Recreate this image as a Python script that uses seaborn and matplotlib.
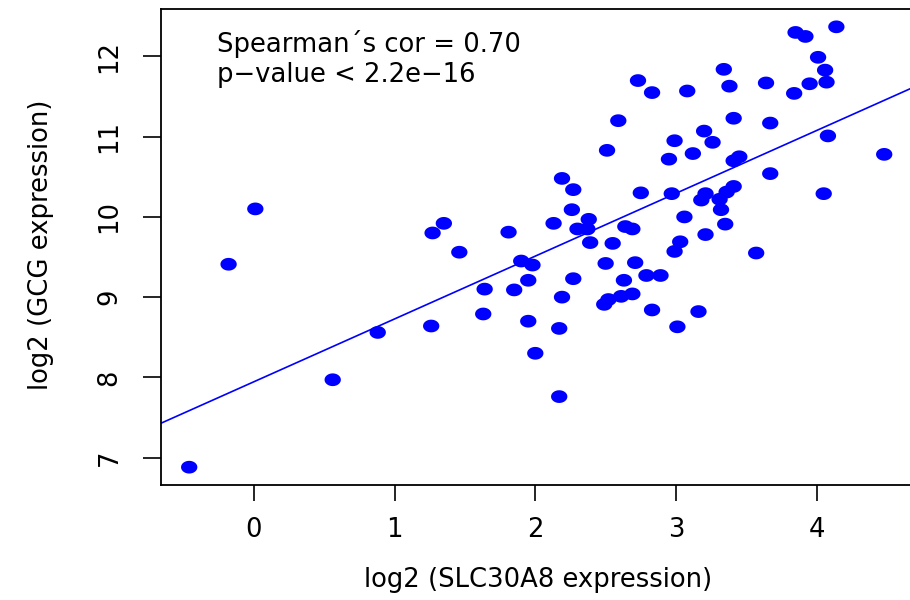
import numpy as np
import pandas as pd
import matplotlib
matplotlib.use("Agg")
import matplotlib.pyplot as plt
from matplotlib.markers import MarkerStyle
import seaborn as sns

# ---- data ----
slc30a8 = [-0.46, -0.18, 0.01, 0.56, 0.88, 1.26, 1.27, 1.35, 1.46, 1.64,
           1.63, 1.81, 1.85, 1.90, 1.95, 1.98, 1.95, 2.00, 2.13, 2.17,
           2.17, 2.19, 2.19, 2.27, 2.26, 2.27, 2.30, 2.38, 2.37, 2.39,
           2.50, 2.49, 2.52, 2.51, 2.55, 2.59, 2.61, 2.63, 2.64, 2.69,
           2.69, 2.71, 2.73, 2.75, 2.79, 2.83, 2.83, 2.89, 2.95, 2.99,
           2.97, 2.99, 3.01, 3.03, 3.06, 3.08, 3.12, 3.16, 3.18, 3.20,
           3.21, 3.21, 3.26, 3.34, 3.32, 3.31, 3.35, 3.36, 3.38, 3.41,
           3.41, 3.41, 3.45, 3.57, 3.64, 3.67, 3.67, 3.85, 3.84, 3.92,
           3.95, 4.01, 4.06, 4.07, 4.05, 4.08, 4.14, 4.48]
gcg = [6.88, 9.41, 10.10, 7.97, 8.56, 8.64, 9.80, 9.92, 9.56, 9.10,
       8.79, 9.81, 9.09, 9.45, 9.21, 9.40, 8.70, 8.30, 9.92, 8.61,
       7.76, 10.48, 9.00, 10.34, 10.09, 9.23, 9.85, 9.97, 9.85, 9.68,
       9.42, 8.91, 8.97, 10.83, 9.67, 11.20, 9.01, 9.21, 9.88, 9.85,
       9.04, 9.43, 11.70, 10.30, 9.27, 8.84, 11.55, 9.27, 10.72, 10.95,
       10.29, 9.57, 8.63, 9.69, 10.00, 11.57, 10.79, 8.82, 10.21, 11.07,
       10.29, 9.78, 10.93, 11.84, 10.09, 10.22, 9.91, 10.31, 11.63, 11.23,
       10.38, 10.70, 10.75, 9.55, 11.67, 10.54, 11.17, 12.30, 11.54, 12.25,
       11.66, 11.99, 11.83, 11.68, 10.29, 11.01, 12.37, 10.78]
x_ticks = [0, 1, 2, 3, 4]
y_ticks = [7, 8, 9, 10, 11, 12]
annot_lines = ["Spearman\u00b4s cor = 0.70", "p\u2212value < 2.2e\u221216"]
x_label = "log2 (SLC30A8 expression)"
y_label = "log2 (GCG expression)"

# ---- style ----
sns.set_style("white")
plt.rcParams["font.family"] = ["DejaVu Sans"]
FS = 18.6
BLUE = "#0000ff"

W, H = 910, 600
fig = plt.figure(figsize=(W / 100, H / 100), dpi=100)
ax_l, ax_r, ax_t, ax_b = 161.4, 912.0, 9.2, 484.8
ax = fig.add_axes([ax_l / W, (H - ax_b) / H, (ax_r - ax_l) / W, (ax_b - ax_t) / H])

df = pd.DataFrame({"x": slc30a8, "y": gcg})

theta = np.linspace(0, 2 * np.pi, 64)
ellipse = MarkerStyle(np.column_stack([np.cos(theta), 0.78 * np.sin(theta)]))

sns.scatterplot(data=df, x="x", y="y", marker=ellipse, s=138, color=BLUE,
                linewidth=0, edgecolor="none", ax=ax, zorder=3)

# least-squares line (abline(lm(y ~ x)))
slope, intercept = np.polyfit(df["x"], df["y"], 1)
ax.axline((0, intercept), slope=slope, color=BLUE, lw=1.2, zorder=2)

ax.margins(x=0.04, y=0.04)
ax.set_xticks(x_ticks)
ax.set_yticks(y_ticks)

for s in ax.spines.values():
    s.set_visible(True)
    s.set_color("black")
    s.set_linewidth(1.3)

ax.tick_params(axis="x", direction="out", length=11.5, width=1.2, pad=11.5,
               labelsize=FS, colors="black", bottom=True)
ax.tick_params(axis="y", direction="out", length=13, width=1.2, pad=15,
               labelsize=FS, colors="black", left=True, labelrotation=90)
for lab in ax.get_yticklabels():
    lab.set_va("center")

ax.set_xlabel(x_label, fontsize=FS, color="black")
ax.set_ylabel(y_label, fontsize=FS, color="black")
ax.xaxis.label.set_va("center")
ax.yaxis.label.set_va("center")
ax.xaxis.set_label_coords(0.5024, -0.200)
ax.yaxis.set_label_coords(-0.160, 0.504)

ax.text(0.074, 0.9106, annot_lines[0], transform=ax.transAxes, ha="left",
        va="baseline", fontsize=FS, color="black")
ax.text(0.074, 0.8476, annot_lines[1], transform=ax.transAxes, ha="left",
        va="baseline", fontsize=FS, color="black")

fig.savefig("out.png", dpi=100)
